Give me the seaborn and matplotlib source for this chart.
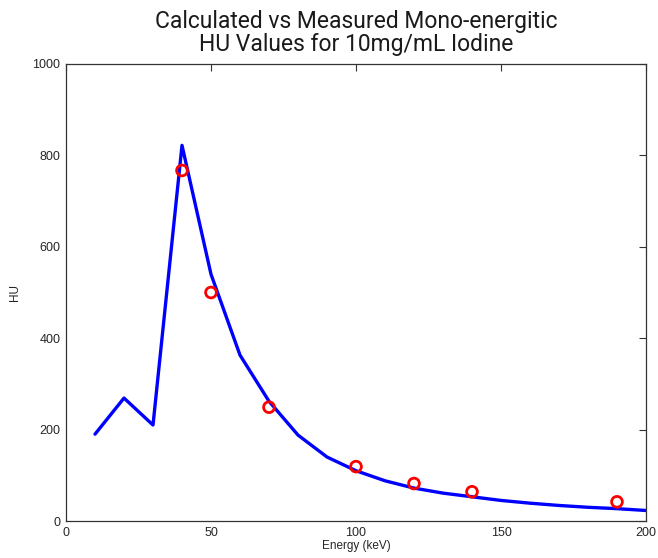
import matplotlib
matplotlib.use("Agg")
import matplotlib.pyplot as plt
import pandas as pd
import seaborn as sns

sns.set_style("white")
plt.rcParams['font.family'] = ['Liberation Sans', 'DejaVu Sans']

# calculated curve (keV, HU)
calc_energy = [10, 20, 30, 40, 50, 60, 70, 80, 90, 100, 110, 120, 130, 140, 150, 160, 170, 180, 190, 200]
calc_hu = [190, 269, 210, 822, 540, 363, 262, 188, 140, 110, 88, 72, 61, 53, 45, 39, 34, 30, 27, 23]

# measured points
meas_energy = [40, 50, 70, 100, 120, 140, 190]
meas_hu = [767, 500, 249, 119, 82, 64, 42]

calc = pd.DataFrame({'energy': calc_energy, 'hu': calc_hu})
meas = pd.DataFrame({'energy': meas_energy, 'hu': meas_hu})

fig = plt.figure(figsize=(6.58, 5.58), dpi=100)
ax = fig.add_axes([66 / 658, 1 - 521 / 558, 580 / 658, 457 / 558])

sns.lineplot(data=calc, x='energy', y='hu', color='#0000ff', linewidth=2.4, ax=ax)
sns.scatterplot(data=meas, x='energy', y='hu', marker='o', s=60, facecolor='none',
                edgecolor='#ff0000', linewidth=2.0, ax=ax, zorder=3)

ax.set_xlim(0, 200)
ax.set_ylim(0, 1000)
ax.set_xticks([0, 50, 100, 150, 200])
ax.set_yticks([0, 200, 400, 600, 800, 1000])
ax.tick_params(direction='in', top=True, right=True, length=5, width=0.8,
               labelsize=9, color='#333333', pad=4)
for s in ax.spines.values():
    s.set_color('#333333')
    s.set_linewidth(0.9)

ax.set_xlabel('Energy (keV)', fontsize=8.5, labelpad=1)
ax.set_ylabel('HU', fontsize=8.5, labelpad=8)
ax.set_title('Calculated vs Measured Mono-energitic\nHU Values for 10mg/mL Iodine',
             fontsize=16.5, family=['Roboto', 'DejaVu Sans'],
             linespacing=1.05, pad=9, color='#1a1a1a')

fig.savefig('out.png', dpi=100)
